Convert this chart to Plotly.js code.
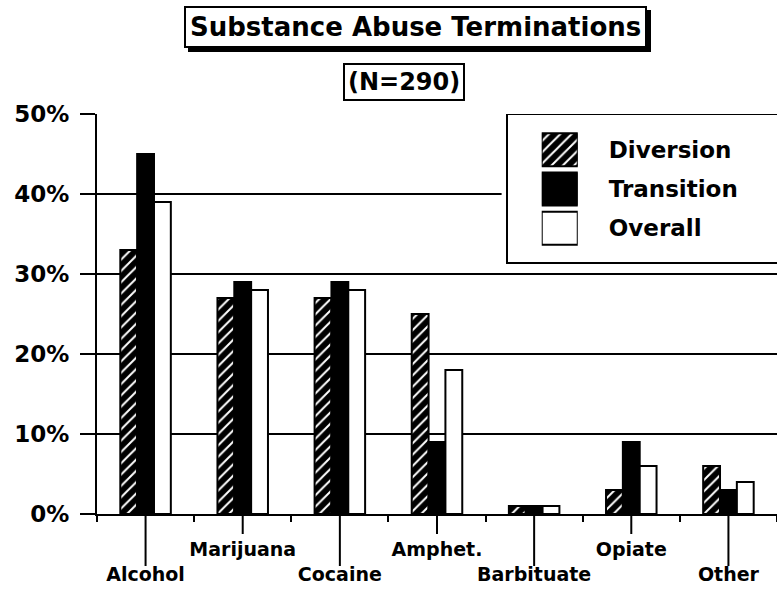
<!DOCTYPE html>
<html>
<head>
<meta charset="utf-8">
<script src="https://cdn.plot.ly/plotly-3.0.1.min.js"></script>
<style>
  body { margin: 0; background: #fff; }
  #chart { width: 777px; height: 589px; }
</style>
</head>
<body>
<div id="chart"></div>
<script>
// Values (percent of terminations)
let categories = ["Alcohol", "Marijuana", "Cocaine", "Amphet.", "Barbituate", "Opiate", "Other"];
let seriesNames = ["Diversion", "Transition", "Overall"];
let diversion = [33, 27, 27, 25, 1, 3, 6];
let transition = [45, 29, 29, 9, 1, 9, 3];
let overall = [39, 28, 28, 18, 1, 6, 4];
let yTicks = [0, 10, 20, 30, 40, 50];
let yTickText = ["0%", "10%", "20%", "30%", "40%", "50%"];
let chartTitle = "Substance Abuse Terminations";
let chartSubtitle = "(N=290)";

const FONT = '"DejaVu Sans", Verdana, sans-serif';

// Fill style for each series: hatched, solid black, white
let seriesMarkers = [
  { color: "black", pattern: { shape: "/", bgcolor: "black", fgcolor: "white", size: 8, solidity: 0.25, fillmode: "replace" }, line: { color: "black", width: 2 } },
  { color: "black", line: { color: "black", width: 2 } },
  { color: "white", line: { color: "black", width: 2 } }
];

let seriesValues = [diversion, transition, overall];

// Main grouped bars
let traces = seriesNames.map(function(name, i) {
  return {
    type: "bar",
    name: name,
    x: categories,
    y: seriesValues[i],
    marker: seriesMarkers[i],
    showlegend: false,
    hoverinfo: "skip"
  };
});

// Legend swatches drawn as a small bar chart in their own axes
seriesNames.forEach(function(name, i) {
  traces.push({
    type: "bar",
    orientation: "h",
    x: [1],
    y: [name],
    xaxis: "x3",
    yaxis: "y3",
    width: 0.84,
    offsetgroup: "key",
    marker: seriesMarkers[i],
    showlegend: false,
    hoverinfo: "skip"
  });
});

// Staggered category labels: every other one pushed to a second row
let tickText = categories.map(function(c, i) {
  return i % 2 ? c : "<br>" + c;
});

// Long tick lines from the axis down to each label
let shapes = categories.map(function(c, i) {
  return {
    type: "line", xref: "x", yref: "paper",
    x0: c, x1: c, y0: 0, y1: i % 2 ? -0.05 : -0.13,
    line: { color: "black", width: 2 }
  };
});

// Legend frame, in its own axes so it sits over the gridlines
shapes.push({
  type: "rect", xref: "x2", yref: "y2", layer: "below",
  x0: 0, x1: 1.1, y0: 0, y1: 1,
  fillcolor: "white",
  line: { color: "black", width: 2 }
});

let titleFont = { family: FONT, size: 26, color: "black", weight: 700 };

let layout = {
  width: 777,
  height: 589,
  margin: { l: 97, r: 0, t: 114, b: 75 },
  paper_bgcolor: "white",
  plot_bgcolor: "white",
  font: { family: FONT, color: "black", weight: 700 },
  barmode: "group",
  bargap: 0.48,
  bargroupgap: 0,
  showlegend: false,
  xaxis: {
    type: "category",
    tickmode: "array",
    tickvals: categories,
    ticktext: tickText,
    tickangle: 0,
    tickson: "boundaries",
    ticks: "outside",
    ticklen: 6,
    tickwidth: 2,
    tickcolor: "black",
    showline: true,
    linewidth: 2,
    linecolor: "black",
    showgrid: false,
    tickfont: { family: FONT, size: 19, color: "black", weight: 700 },
    ticklabelstandoff: 17,
    fixedrange: true
  },
  yaxis: {
    range: [0, 50],
    tickmode: "array",
    tickvals: yTicks,
    ticktext: yTickText,
    ticks: "outside",
    ticklen: 15,
    tickwidth: 2,
    tickcolor: "black",
    showline: true,
    linewidth: 2,
    linecolor: "black",
    showgrid: true,
    gridcolor: "black",
    gridwidth: 2,
    zeroline: false,
    tickfont: { family: FONT, size: 23, color: "black", weight: 700 },
    ticklabelstandoff: 6,
    fixedrange: true
  },
  xaxis2: { domain: [0.595, 1], range: [-0.02, 1], visible: false, anchor: "y2", fixedrange: true },
  yaxis2: { domain: [0.62, 1], range: [-0.02, 1], visible: false, anchor: "x2", fixedrange: true },
  xaxis3: { domain: [0.654, 0.707], range: [0, 1], visible: false, anchor: "y3", fixedrange: true },
  yaxis3: {
    domain: [0.665, 0.96],
    anchor: "x3",
    type: "category",
    categoryarray: seriesNames,
    autorange: "reversed",
    side: "right",
    showgrid: false,
    showline: false,
    zeroline: false,
    ticks: "",
    tickfont: { family: FONT, size: 23, color: "black", weight: 700 },
    ticklabelstandoff: 30,
    fixedrange: true
  },
  shapes: shapes,
  annotations: [
    // drop shadow behind the title box
    {
      xref: "paper", yref: "paper", x: 0.469, y: 1.2175,
      xanchor: "center", yanchor: "middle",
      text: chartTitle, showarrow: false, font: titleFont,
      bgcolor: "black", bordercolor: "black", borderwidth: 2, borderpad: 4,
      xshift: 4, yshift: -4
    },
    {
      xref: "paper", yref: "paper", x: 0.469, y: 1.2175,
      xanchor: "center", yanchor: "middle",
      text: chartTitle, showarrow: false, font: titleFont,
      bgcolor: "white", bordercolor: "black", borderwidth: 2, borderpad: 4
    },
    {
      xref: "paper", yref: "paper", x: 0.451, y: 1.08,
      xanchor: "center", yanchor: "middle",
      text: chartSubtitle, showarrow: false,
      font: { family: FONT, size: 24, color: "black", weight: 700 },
      bgcolor: "white", bordercolor: "black", borderwidth: 2, borderpad: 3
    }
  ]
};

Plotly.newPlot("chart", traces, layout, { staticPlot: true, displayModeBar: false });
</script>
</body>
</html>
